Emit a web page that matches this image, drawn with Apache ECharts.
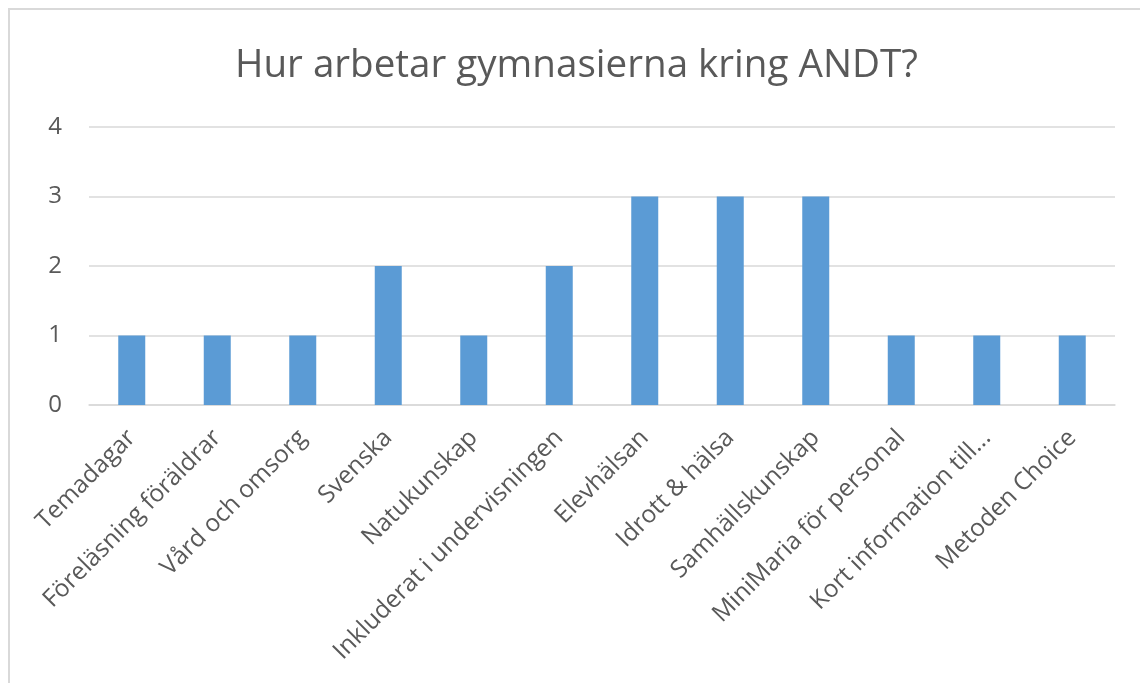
<!DOCTYPE html>
<html>
<head>
<meta charset="utf-8">
<script src="https://cdn.jsdelivr.net/npm/echarts@6/dist/echarts.min.js"></script>
<style>html,body{margin:0;padding:0;background:#fff}#c{width:1140px;height:683px}</style>
</head>
<body>
<div id="c"></div>
<script>
const titleText = 'Hur arbetar gymnasierna kring ANDT?';
const categories = ['Temadagar','Föreläsning föräldrar','Vård och omsorg','Svenska','Natukunskap','Inkluderat i undervisningen','Elevhälsan','Idrott & hälsa','Samhällskunskap','MiniMaria för personal','Kort information till...','Metoden Choice'];
const values = [1,1,1,2,1,2,3,3,3,1,1,1];
const yTicks = [0,1,2,3,4];

const chart = echarts.init(document.getElementById('c'));
const font = '"Open Sans", sans-serif';
chart.setOption({
  animation: false,
  backgroundColor: '#fff',
  title: {
    text: titleText,
    left: 235,
    top: 47,
    padding: 0,
    textStyle: { fontFamily: font, fontSize: 38.6, fontWeight: 'normal', color: '#595959' }
  },
  graphic: [{
    type: 'rect', silent: true,
    shape: { x: 9, y: 9, width: 1200, height: 1000 },
    style: { fill: 'none', stroke: '#D9D9D9', lineWidth: 2 }
  }],
  grid: { left: 89, right: 25, top: 127, bottom: 278, containLabel: false },
  xAxis: {
    type: 'category',
    data: categories,
    axisLine: { show: true, lineStyle: { color: '#D9D9D9', width: 1.5 } },
    axisTick: { show: false },
    axisLabel: { interval: 0, rotate: 45, margin: 29, color: '#595959', fontFamily: font, fontSize: 24.5 }
  },
  yAxis: {
    type: 'value',
    min: yTicks[0], max: yTicks[yTicks.length - 1], interval: 1,
    axisLine: { show: false },
    axisTick: { show: false },
    splitLine: { lineStyle: { color: '#D9D9D9', width: 1.5 } },
    axisLabel: { margin: 27, color: '#595959', fontFamily: font, fontSize: 24 }
  },
  series: [{
    type: 'bar',
    data: values,
    barWidth: 27,
    itemStyle: { color: '#5B9BD5' }
  }]
});
</script>
</body>
</html>
